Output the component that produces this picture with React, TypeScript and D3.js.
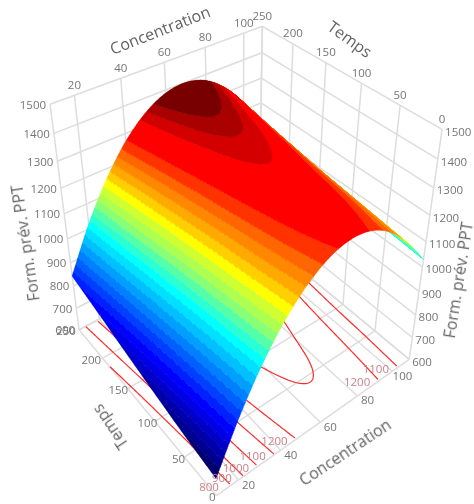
import React from "react";
import * as d3 from "d3";

const width = 474;
const height = 504;

// Surface values, one row per Temps
const concGrid = [10, 20, 30, 40, 50, 60, 70, 80, 90, 100, 110];
const tempsGrid = [0, 50, 100, 150, 200, 250];
const zT0 = [676, 861, 1014, 1132, 1216, 1267, 1284, 1267, 1216, 1132, 1030];
const zT50 = [704, 888, 1039, 1156, 1239, 1288, 1303, 1286, 1234, 1148, 1042];
const zT100 = [737, 918, 1065, 1180, 1261, 1308, 1322, 1302, 1250, 1164, 1050];
const zT150 = [772, 950, 1095, 1207, 1285, 1331, 1344, 1324, 1270, 1184, 1065];
const zT200 = [809, 984, 1127, 1237, 1314, 1358, 1370, 1348, 1293, 1206, 1085];
const zT250 = [843, 1019, 1161, 1271, 1346, 1389, 1399, 1377, 1320, 1231, 1108];
const zRows = [zT0, zT50, zT100, zT150, zT200, zT250];

const concTicks = [20, 40, 60, 80, 100];
const tempsTicks = [0, 50, 100, 150, 200, 250];
const zTicks = [600, 700, 800, 900, 1000, 1100, 1200, 1300, 1400, 1500];
const contourLevels = [800, 900, 1000, 1100, 1200, 1300];
const contourLabelsLow = [800, 900, 1000, 1100, 1200];
const contourLabelsHigh = [1100, 1200];

const bandLevels = [
  0, 708, 733, 758, 783, 808, 833, 858, 883, 908, 933, 958, 983, 1008, 1030, 1052,
  1074, 1096, 1118, 1140, 1162, 1184, 1206, 1228, 1250, 1275, 1328, 1349, 1367,
];
const bandColors = [
  "#000070", "#000090", "#0000aa", "#0000c8", "#0000e6", "#0000ff", "#0020ff", "#0040ff",
  "#0060ff", "#0080ff", "#00a0ff", "#00c0ff", "#00e0ff", "#00ffff", "#2bffd4", "#55ffaa",
  "#88ff77", "#adff50", "#cfff30", "#ffff00", "#ffd000", "#ffaa00", "#ff8800", "#ff6600",
  "#ff3300", "#ff0000", "#d40000", "#aa0000", "#780000",
];

const concDomain = [10, 110];
const tempsDomain = [0, 250];
const zDomain = [600, 1500];

// Box corners as seen on the picture: conc, temps, z -> px, py
const cameraAnchors = [
  [10, 250, 1500, 52, 102],
  [110, 250, 1500, 262, 27],
  [110, 0, 1500, 442, 127],
  [10, 250, 600, 80, 332],
  [110, 0, 600, 410, 360],
  [10, 0, 600, 216, 494],
  [110, 250, 600, 259, 231],
  [110, 250, 1200, 261, 105],
  [10, 250, 1000, 65, 240],
  [110, 0, 1000, 422, 270],
];

const uScale = d3.scaleLinear().domain(concDomain).range([0, 1]);
const vScale = d3.scaleLinear().domain(tempsDomain).range([0, 1]);
const wScale = d3.scaleLinear().domain(zDomain).range([0, 1]);

// least squares fit of the 11 camera parameters
function fitCamera() {
  const rows: number[][] = [];
  const rhs: number[] = [];
  cameraAnchors.forEach(([c, t, z, px, py]) => {
    const u = uScale(c), v = vScale(t), w = wScale(z);
    rows.push([u, v, w, 1, 0, 0, 0, 0, -px * u, -px * v, -px * w]);
    rhs.push(px);
    rows.push([0, 0, 0, 0, u, v, w, 1, -py * u, -py * v, -py * w]);
    rhs.push(py);
  });
  const n = 11;
  const m = d3.range(n).map((i) =>
    d3.range(n + 1).map((j) =>
      j < n ? d3.sum(rows, (r) => r[i] * r[j]) : d3.sum(rows, (r, k) => r[i] * rhs[k])
    )
  );
  for (let i = 0; i < n; i++) {
    let p = i;
    for (let k = i + 1; k < n; k++) if (Math.abs(m[k][i]) > Math.abs(m[p][i])) p = k;
    [m[i], m[p]] = [m[p], m[i]];
    for (let k = 0; k < n; k++) {
      if (k === i) continue;
      const f = m[k][i] / m[i][i];
      for (let j = i; j <= n; j++) m[k][j] -= f * m[i][j];
    }
  }
  return m.map((r, i) => r[n] / r[i]);
}

const cam = fitCamera();

function project(c: number, t: number, z: number): [number, number] {
  const u = uScale(c), v = vScale(t), w = wScale(z);
  const d = cam[8] * u + cam[9] * v + cam[10] * w + 1;
  return [
    (cam[0] * u + cam[1] * v + cam[2] * w + cam[3]) / d,
    (cam[4] * u + cam[5] * v + cam[6] * w + cam[7]) / d,
  ];
}

function catmull(p0: number, p1: number, p2: number, p3: number, s: number) {
  return (
    0.5 *
    (2 * p1 +
      (p2 - p0) * s +
      (2 * p0 - 5 * p1 + 4 * p2 - p3) * s * s +
      (3 * p1 - p0 - 3 * p2 + p3) * s * s * s)
  );
}

function sample1d(vals: number[], pos: number) {
  const i = Math.min(Math.max(Math.floor(pos), 0), vals.length - 2);
  const s = pos - i;
  const p1 = vals[i], p2 = vals[i + 1];
  const p0 = i > 0 ? vals[i - 1] : 2 * p1 - p2;
  const p3 = i + 2 < vals.length ? vals[i + 2] : 2 * p2 - p1;
  return catmull(p0, p1, p2, p3, s);
}

const concIndex = d3.scaleLinear().domain(d3.extent(concGrid) as number[]).range([0, concGrid.length - 1]);
const tempsIndex = d3.scaleLinear().domain(d3.extent(tempsGrid) as number[]).range([0, tempsGrid.length - 1]);

function surface(c: number, t: number) {
  const cp = concIndex(c);
  const col = zRows.map((r) => sample1d(r, cp));
  return sample1d(col, tempsIndex(t));
}

const bandOf = d3.scaleThreshold<number, string>().domain(bandLevels.slice(1)).range(bandColors);

const path3 = (pts: [number, number, number][]) => {
  const line = d3.line();
  return line(pts.map(([c, t, z]) => project(c, t, z))) || "";
};

// Mesh split by colour band; back faces go first so the ridge hides them
function buildMesh() {
  const nC = 300, nT = 220;
  const cs = d3.range(nC + 1).map((i) => concDomain[0] + ((concDomain[1] - concDomain[0]) * i) / nC);
  const ts = d3.range(nT + 1).map((j) => tempsDomain[0] + ((tempsDomain[1] - tempsDomain[0]) * j) / nT);
  const pts = ts.map((t) => cs.map((c) => {
    const z = surface(c, t);
    return { z, p: project(c, t, z) };
  }));
  const back = new Map<string, string[]>();
  const front = new Map<string, string[]>();
  const f = (v: number) => v.toFixed(1);
  for (let j = 0; j < nT; j++) {
    for (let i = 0; i < nC; i++) {
      const a = pts[j][i], b = pts[j][i + 1], c = pts[j + 1][i + 1], d = pts[j + 1][i];
      const area =
        (c.p[0] - a.p[0]) * (d.p[1] - b.p[1]) - (d.p[0] - b.p[0]) * (c.p[1] - a.p[1]);
      const color = bandOf((a.z + b.z + c.z + d.z) / 4);
      const target = area < 0 ? front : back;
      if (!target.has(color)) target.set(color, []);
      target.get(color)!.push(
        `M${f(a.p[0])},${f(a.p[1])}L${f(b.p[0])},${f(b.p[1])}L${f(c.p[0])},${f(c.p[1])}L${f(d.p[0])},${f(d.p[1])}Z`
      );
    }
  }
  return { back: [...back.entries()], front: [...front.entries()] };
}

// Floor contours from d3.contours, border runs dropped
function buildContours() {
  const n = 220, m = 140;
  const values = new Array(n * m);
  const toC = d3.scaleLinear().domain([0.5, n - 0.5]).range(concDomain);
  const toT = d3.scaleLinear().domain([0.5, m - 0.5]).range(tempsDomain);
  for (let j = 0; j < m; j++)
    for (let i = 0; i < n; i++) values[i + j * n] = surface(toC(i + 0.5), toT(j + 0.5));
  const gen = d3.contours().size([n, m]).thresholds(contourLevels);
  const out: string[] = [];
  gen(values).forEach((mp) => {
    mp.coordinates.forEach((poly) =>
      poly.forEach((ring) => {
        let run: [number, number, number][] = [];
        const flush = () => {
          if (run.length > 1) out.push(path3(run));
          run = [];
        };
        ring.forEach(([x, y]) => {
          if (x <= 0.6 || x >= n - 0.6 || y <= 0.6 || y >= m - 0.6) flush();
          else run.push([toC(x), toT(y), zDomain[0]]);
        });
        flush();
      })
    );
  });
  return out;
}

// where a level crosses the Temps=0 edge, scanning from one side
function crossing(level: number, from: number, to: number) {
  const step = (to - from) / 400;
  for (let c = from; step > 0 ? c < to : c > to; c += step) {
    if (surface(c, 0) >= level) return c;
  }
  return from;
}

const mesh = buildMesh();
const contourPaths = buildContours();

const gridColor = "#dddddd";
const tickColor = "#757575";
const titleColor = "#636363";
const fontFamily = "'Open Sans', sans-serif";

const zMin = zDomain[0], zMax = zDomain[1];
const cMin = concDomain[0], cMax = concDomain[1];
const tMin = tempsDomain[0], tMax = tempsDomain[1];

const gridLines: [number, number, number][][] = [
  // left wall (temps = max) and right wall (conc = max)
  ...zTicks.map((z) => [[cMin, tMax, z], [cMax, tMax, z], [cMax, tMin, z]] as [number, number, number][]),
  ...[cMin, ...concTicks, cMax].map((c) => [[c, tMax, zMin], [c, tMax, zMax]] as [number, number, number][]),
  ...tempsTicks.map((t) => [[cMax, t, zMin], [cMax, t, zMax]] as [number, number, number][]),
  // floor
  ...[cMin, ...concTicks, cMax].map((c) => [[c, tMin, zMin], [c, tMax, zMin]] as [number, number, number][]),
  ...tempsTicks.map((t) => [[cMin, t, zMin], [cMax, t, zMin]] as [number, number, number][]),
];

const titles = [
  { text: "Concentration", x: 160, y: 30, angle: -21.5 },
  { text: "Temps", x: 350, y: 39, angle: 36 },
  { text: "Form. prév. PPT", x: 25, y: 243, angle: -98.6 },
  { text: "Form. prév. PPT", x: 458, y: 280, angle: -81 },
  { text: "Temps", x: 110, y: 427, angle: -124 },
  { text: "Concentration", x: 345, y: 452, angle: -33.7 },
];

export default function App() {
  const labels: { text: string; x: number; y: number; anchor: string; color?: string }[] = [];
  zTicks.forEach((z) => {
    const [x, y] = project(cMin, tMax, z);
    labels.push({ text: String(z), x: x - 4, y, anchor: "end" });
    const [x2, y2] = project(cMax, tMin, z);
    labels.push({ text: String(z), x: x2 + 3, y: y2 + 2, anchor: "start" });
  });
  concTicks.forEach((c) => {
    const [x, y] = project(c, tMax, zMax);
    labels.push({ text: String(c), x, y: y - 11, anchor: "middle" });
    const [x2, y2] = project(c, tMin, zMin);
    labels.push({ text: String(c), x: x2 + 10, y: y2 + 4, anchor: "middle" });
  });
  tempsTicks.forEach((t) => {
    const [x, y] = project(cMax, t, zMax);
    labels.push({ text: String(t), x, y: y - 11, anchor: "middle" });
    const [x2, y2] = project(cMin, t, zMin);
    labels.push({ text: String(t), x: x2 - (4 + (9 * t) / 250), y: y2 + 1, anchor: "middle" });
  });
  contourLabelsLow.forEach((lv) => {
    const [x, y] = project(crossing(lv, cMin, 70), tMin, zMin);
    labels.push({ text: String(lv), x: x - 22, y: y + 1, anchor: "middle", color: "#c97f88" });
  });
  contourLabelsHigh.forEach((lv) => {
    const [x, y] = project(crossing(lv, cMax, 70), tMin, zMin);
    labels.push({ text: String(lv), x: x - 22, y: y + 1, anchor: "middle", color: "#c97f88" });
  });

  return (
    <svg
      width={width}
      height={height}
      style={{ position: "absolute", left: 0, top: 0, background: "#fff" }}
      fontFamily={fontFamily}
    >
      <defs>
        <filter id="soft" x="-5%" y="-5%" width="110%" height="110%">
          <feGaussianBlur stdDeviation="0.35" />
        </filter>
      </defs>
      <g fill="none" stroke={gridColor} strokeWidth={1.5} filter="url(#soft)">
        {gridLines.map((l, i) => (
          <path key={i} d={path3(l)} />
        ))}
      </g>
      <g fill="none" stroke="#ff2a2a" strokeWidth={1.2}>
        {contourPaths.map((d, i) => (
          <path key={i} d={d} />
        ))}
      </g>
      {mesh.back.map(([color, quads]) => (
        <path key={"b" + color} d={quads.join("")} fill={color} stroke={color} strokeWidth={0.4} />
      ))}
      {mesh.front.map(([color, quads]) => (
        <path key={"f" + color} d={quads.join("")} fill={color} stroke={color} strokeWidth={0.4} />
      ))}
      <g fontSize={11.5} filter="url(#soft)">
        {labels.map((l, i) => (
          <text
            key={i}
            x={l.x}
            y={l.y}
            textAnchor={l.anchor}
            dominantBaseline="central"
            fill={l.color || tickColor}
          >
            {l.text}
          </text>
        ))}
      </g>
      <g fontSize={16} fill={titleColor} filter="url(#soft)">
        {titles.map((t, i) => (
          <text
            key={i}
            transform={`translate(${t.x},${t.y}) rotate(${t.angle})`}
            textAnchor="middle"
            dominantBaseline="central"
          >
            {t.text}
          </text>
        ))}
      </g>
    </svg>
  );
}
